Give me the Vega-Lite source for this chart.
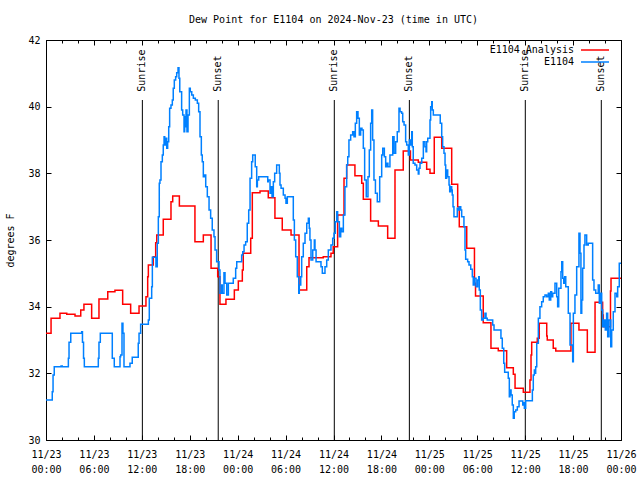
{
  "$schema": "https://vega.github.io/schema/vega-lite/v6.json",
  "width": 575,
  "height": 400,
  "autosize": {"type": "none"},
  "padding": {"left": 46, "top": 40, "right": 19, "bottom": 40},
  "background": "white",
  "title": {"text": "Dew Point for E1104 on 2024-Nov-23 (time in UTC)", "font": "DejaVu Sans Mono", "fontSize": 10, "fontWeight": "normal", "color": "black", "offset": 10, "anchor": "middle"},
  "config": {
    "view": {"stroke": "black", "strokeWidth": 1},
    "axis": {"domain": false, "grid": false, "labelFont": "DejaVu Sans Mono", "labelFontSize": 10, "labelColor": "black", "tickColor": "black", "tickWidth": 1, "titleFont": "DejaVu Sans Mono", "titleFontSize": 10, "titleFontWeight": "normal", "titleColor": "black"},
    "legend": {"orient": "none", "legendX": 544, "legendY": 5, "padding": 0, "symbolType": "M-4,0H4", "symbolSize": 49, "symbolStrokeWidth": 1.5, "labelAlign": "right", "labelBaseline": "middle", "labelOffset": -26, "labelFont": "DejaVu Sans Mono", "labelFontSize": 10, "labelColor": "black", "rowPadding": 2}
  },
  "datasets": {
    "sun": [
      {"t": "2024-11-23T12:04:00Z", "event": "Sunrise"},
      {"t": "2024-11-23T21:34:00Z", "event": "Sunset"},
      {"t": "2024-11-24T12:06:00Z", "event": "Sunrise"},
      {"t": "2024-11-24T21:30:00Z", "event": "Sunset"},
      {"t": "2024-11-25T12:01:00Z", "event": "Sunrise"},
      {"t": "2024-11-25T21:32:00Z", "event": "Sunset"}
    ],
    "analysis": [
      {"t": "2024-11-23T00:00:00Z", "v": 33.2},
      {"t": "2024-11-23T00:38:00Z", "v": 33.65},
      {"t": "2024-11-23T01:45:00Z", "v": 33.8},
      {"t": "2024-11-23T02:36:00Z", "v": 33.77},
      {"t": "2024-11-23T03:38:00Z", "v": 33.72},
      {"t": "2024-11-23T04:21:00Z", "v": 33.9},
      {"t": "2024-11-23T04:45:00Z", "v": 34.07},
      {"t": "2024-11-23T05:43:00Z", "v": 33.65},
      {"t": "2024-11-23T06:38:00Z", "v": 34.23},
      {"t": "2024-11-23T07:44:00Z", "v": 34.45},
      {"t": "2024-11-23T08:38:00Z", "v": 34.49},
      {"t": "2024-11-23T09:36:00Z", "v": 34.07},
      {"t": "2024-11-23T10:36:00Z", "v": 33.8},
      {"t": "2024-11-23T11:39:00Z", "v": 34.02},
      {"t": "2024-11-23T12:31:00Z", "v": 34.3},
      {"t": "2024-11-23T12:44:00Z", "v": 34.9},
      {"t": "2024-11-23T12:49:00Z", "v": 35.25},
      {"t": "2024-11-23T13:26:00Z", "v": 35.5},
      {"t": "2024-11-23T13:44:00Z", "v": 35.92},
      {"t": "2024-11-23T13:52:00Z", "v": 36.15},
      {"t": "2024-11-23T14:41:00Z", "v": 36.62},
      {"t": "2024-11-23T15:39:00Z", "v": 37.15},
      {"t": "2024-11-23T15:52:00Z", "v": 37.32},
      {"t": "2024-11-23T16:42:00Z", "v": 37.02},
      {"t": "2024-11-23T18:39:00Z", "v": 35.95},
      {"t": "2024-11-23T19:42:00Z", "v": 36.15},
      {"t": "2024-11-23T20:40:00Z", "v": 35.15},
      {"t": "2024-11-23T21:30:00Z", "v": 34.9},
      {"t": "2024-11-23T21:47:00Z", "v": 34.07},
      {"t": "2024-11-23T22:32:00Z", "v": 34.22},
      {"t": "2024-11-23T23:35:00Z", "v": 34.5},
      {"t": "2024-11-24T00:05:00Z", "v": 34.77},
      {"t": "2024-11-24T00:35:00Z", "v": 35.1},
      {"t": "2024-11-24T00:42:00Z", "v": 35.6},
      {"t": "2024-11-24T01:38:00Z", "v": 36.05},
      {"t": "2024-11-24T01:50:00Z", "v": 37.42},
      {"t": "2024-11-24T02:48:00Z", "v": 37.47},
      {"t": "2024-11-24T03:50:00Z", "v": 37.27},
      {"t": "2024-11-24T04:40:00Z", "v": 36.65},
      {"t": "2024-11-24T05:35:00Z", "v": 36.3},
      {"t": "2024-11-24T06:41:00Z", "v": 36.15},
      {"t": "2024-11-24T07:41:00Z", "v": 34.5},
      {"t": "2024-11-24T08:39:00Z", "v": 35.2},
      {"t": "2024-11-24T08:56:00Z", "v": 35.47},
      {"t": "2024-11-24T10:43:00Z", "v": 35.5},
      {"t": "2024-11-24T11:41:00Z", "v": 35.6},
      {"t": "2024-11-24T11:58:00Z", "v": 35.8},
      {"t": "2024-11-24T12:31:00Z", "v": 36.75},
      {"t": "2024-11-24T13:19:00Z", "v": 37.85},
      {"t": "2024-11-24T13:39:00Z", "v": 38.25},
      {"t": "2024-11-24T14:41:00Z", "v": 37.93},
      {"t": "2024-11-24T15:32:00Z", "v": 37.7},
      {"t": "2024-11-24T15:44:00Z", "v": 37.22},
      {"t": "2024-11-24T16:39:00Z", "v": 36.57},
      {"t": "2024-11-24T17:37:00Z", "v": 36.42},
      {"t": "2024-11-24T18:47:00Z", "v": 36.05},
      {"t": "2024-11-24T19:42:00Z", "v": 38.1},
      {"t": "2024-11-24T20:44:00Z", "v": 38.67},
      {"t": "2024-11-24T21:38:00Z", "v": 38.4},
      {"t": "2024-11-24T22:37:00Z", "v": 38.33},
      {"t": "2024-11-24T23:40:00Z", "v": 38.12},
      {"t": "2024-11-25T00:05:00Z", "v": 38.0},
      {"t": "2024-11-25T00:37:00Z", "v": 39.08},
      {"t": "2024-11-25T01:33:00Z", "v": 38.75},
      {"t": "2024-11-25T02:48:00Z", "v": 37.67},
      {"t": "2024-11-25T03:33:00Z", "v": 37.0},
      {"t": "2024-11-25T03:45:00Z", "v": 36.4},
      {"t": "2024-11-25T04:41:00Z", "v": 35.75},
      {"t": "2024-11-25T05:39:00Z", "v": 34.7},
      {"t": "2024-11-25T05:47:00Z", "v": 34.32},
      {"t": "2024-11-25T06:45:00Z", "v": 33.52},
      {"t": "2024-11-25T07:43:00Z", "v": 32.75},
      {"t": "2024-11-25T08:38:00Z", "v": 32.68},
      {"t": "2024-11-25T09:41:00Z", "v": 32.17},
      {"t": "2024-11-25T10:31:00Z", "v": 31.97},
      {"t": "2024-11-25T10:44:00Z", "v": 31.55},
      {"t": "2024-11-25T11:46:00Z", "v": 31.43},
      {"t": "2024-11-25T12:36:00Z", "v": 31.8},
      {"t": "2024-11-25T12:44:00Z", "v": 32.55},
      {"t": "2024-11-25T12:49:00Z", "v": 32.93},
      {"t": "2024-11-25T13:31:00Z", "v": 33.05},
      {"t": "2024-11-25T13:46:00Z", "v": 33.5},
      {"t": "2024-11-25T14:42:00Z", "v": 33.12},
      {"t": "2024-11-25T14:46:00Z", "v": 33.0},
      {"t": "2024-11-25T15:31:00Z", "v": 32.75},
      {"t": "2024-11-25T15:50:00Z", "v": 32.67},
      {"t": "2024-11-25T17:44:00Z", "v": 33.5},
      {"t": "2024-11-25T18:44:00Z", "v": 33.3},
      {"t": "2024-11-25T19:47:00Z", "v": 32.63},
      {"t": "2024-11-25T20:45:00Z", "v": 34.13},
      {"t": "2024-11-25T21:42:00Z", "v": 33.75},
      {"t": "2024-11-25T21:47:00Z", "v": 33.4},
      {"t": "2024-11-25T22:41:00Z", "v": 34.47},
      {"t": "2024-11-25T22:45:00Z", "v": 34.85},
      {"t": "2024-11-26T00:00:00Z", "v": 34.85}
    ],
    "obs": [
      {"t": "2024-11-23T00:00:00Z", "v": 31.2},
      {"t": "2024-11-23T00:47:00Z", "v": 31.45},
      {"t": "2024-11-23T00:53:00Z", "v": 31.95},
      {"t": "2024-11-23T01:02:00Z", "v": 32.2},
      {"t": "2024-11-23T01:53:00Z", "v": 32.22},
      {"t": "2024-11-23T02:02:00Z", "v": 32.2},
      {"t": "2024-11-23T02:48:00Z", "v": 32.45},
      {"t": "2024-11-23T02:53:00Z", "v": 32.93},
      {"t": "2024-11-23T03:06:00Z", "v": 33.2},
      {"t": "2024-11-23T04:28:00Z", "v": 33.25},
      {"t": "2024-11-23T04:34:00Z", "v": 32.93},
      {"t": "2024-11-23T04:42:00Z", "v": 32.45},
      {"t": "2024-11-23T04:48:00Z", "v": 32.2},
      {"t": "2024-11-23T06:33:00Z", "v": 32.45},
      {"t": "2024-11-23T06:38:00Z", "v": 32.93},
      {"t": "2024-11-23T06:48:00Z", "v": 33.2},
      {"t": "2024-11-23T08:18:00Z", "v": 32.45},
      {"t": "2024-11-23T08:33:00Z", "v": 32.2},
      {"t": "2024-11-23T09:16:00Z", "v": 32.5},
      {"t": "2024-11-23T09:21:00Z", "v": 32.55},
      {"t": "2024-11-23T09:31:00Z", "v": 33.5},
      {"t": "2024-11-23T09:38:00Z", "v": 33.2},
      {"t": "2024-11-23T09:46:00Z", "v": 32.2},
      {"t": "2024-11-23T10:31:00Z", "v": 32.3},
      {"t": "2024-11-23T10:48:00Z", "v": 32.48},
      {"t": "2024-11-23T11:33:00Z", "v": 32.9},
      {"t": "2024-11-23T11:39:00Z", "v": 33.2},
      {"t": "2024-11-23T11:51:00Z", "v": 33.47},
      {"t": "2024-11-23T12:49:00Z", "v": 33.6},
      {"t": "2024-11-23T12:56:00Z", "v": 34.25},
      {"t": "2024-11-23T13:14:00Z", "v": 34.6},
      {"t": "2024-11-23T13:19:00Z", "v": 35.48},
      {"t": "2024-11-23T13:46:00Z", "v": 35.2},
      {"t": "2024-11-23T13:56:00Z", "v": 35.9},
      {"t": "2024-11-23T14:04:00Z", "v": 36.7},
      {"t": "2024-11-23T14:11:00Z", "v": 37.7},
      {"t": "2024-11-23T14:16:00Z", "v": 37.8},
      {"t": "2024-11-23T14:24:00Z", "v": 38.35},
      {"t": "2024-11-23T14:34:00Z", "v": 38.55},
      {"t": "2024-11-23T14:41:00Z", "v": 38.85},
      {"t": "2024-11-23T14:47:00Z", "v": 39.1},
      {"t": "2024-11-23T14:52:00Z", "v": 38.85},
      {"t": "2024-11-23T14:59:00Z", "v": 39.05},
      {"t": "2024-11-23T15:07:00Z", "v": 38.75},
      {"t": "2024-11-23T15:14:00Z", "v": 38.95},
      {"t": "2024-11-23T15:22:00Z", "v": 39.4},
      {"t": "2024-11-23T15:29:00Z", "v": 39.95},
      {"t": "2024-11-23T15:39:00Z", "v": 40.05},
      {"t": "2024-11-23T15:49:00Z", "v": 40.2},
      {"t": "2024-11-23T15:56:00Z", "v": 40.55},
      {"t": "2024-11-23T16:04:00Z", "v": 40.8},
      {"t": "2024-11-23T16:14:00Z", "v": 40.9},
      {"t": "2024-11-23T16:22:00Z", "v": 41.02},
      {"t": "2024-11-23T16:32:00Z", "v": 41.17},
      {"t": "2024-11-23T16:39:00Z", "v": 40.85},
      {"t": "2024-11-23T16:45:00Z", "v": 40.45},
      {"t": "2024-11-23T16:59:00Z", "v": 39.9},
      {"t": "2024-11-23T17:07:00Z", "v": 39.75},
      {"t": "2024-11-23T17:17:00Z", "v": 39.25},
      {"t": "2024-11-23T17:22:00Z", "v": 39.7},
      {"t": "2024-11-23T17:27:00Z", "v": 39.4},
      {"t": "2024-11-23T17:32:00Z", "v": 39.9},
      {"t": "2024-11-23T17:39:00Z", "v": 39.25},
      {"t": "2024-11-23T17:47:00Z", "v": 39.75},
      {"t": "2024-11-23T17:57:00Z", "v": 40.55},
      {"t": "2024-11-23T18:04:00Z", "v": 40.45},
      {"t": "2024-11-23T18:15:00Z", "v": 40.35},
      {"t": "2024-11-23T18:27:00Z", "v": 40.25},
      {"t": "2024-11-23T18:42:00Z", "v": 40.2},
      {"t": "2024-11-23T18:57:00Z", "v": 40.1},
      {"t": "2024-11-23T19:07:00Z", "v": 39.85},
      {"t": "2024-11-23T19:17:00Z", "v": 39.1},
      {"t": "2024-11-23T19:27:00Z", "v": 38.55},
      {"t": "2024-11-23T19:34:00Z", "v": 38.35},
      {"t": "2024-11-23T19:42:00Z", "v": 37.9},
      {"t": "2024-11-23T19:49:00Z", "v": 37.95},
      {"t": "2024-11-23T20:00:00Z", "v": 37.6},
      {"t": "2024-11-23T20:12:00Z", "v": 37.3},
      {"t": "2024-11-23T20:25:00Z", "v": 36.9},
      {"t": "2024-11-23T20:37:00Z", "v": 36.65},
      {"t": "2024-11-23T20:49:00Z", "v": 36.3},
      {"t": "2024-11-23T21:02:00Z", "v": 36.1},
      {"t": "2024-11-23T21:10:00Z", "v": 35.7},
      {"t": "2024-11-23T21:22:00Z", "v": 35.35},
      {"t": "2024-11-23T21:40:00Z", "v": 35.1},
      {"t": "2024-11-23T21:47:00Z", "v": 34.4},
      {"t": "2024-11-23T22:00:00Z", "v": 34.65},
      {"t": "2024-11-23T22:04:00Z", "v": 34.4},
      {"t": "2024-11-23T22:17:00Z", "v": 35.02},
      {"t": "2024-11-23T22:25:00Z", "v": 34.7},
      {"t": "2024-11-23T22:38:00Z", "v": 34.35},
      {"t": "2024-11-23T22:50:00Z", "v": 34.7},
      {"t": "2024-11-23T23:27:00Z", "v": 34.85},
      {"t": "2024-11-23T23:45:00Z", "v": 35.15},
      {"t": "2024-11-23T23:53:00Z", "v": 35.35},
      {"t": "2024-11-24T00:30:00Z", "v": 35.55},
      {"t": "2024-11-24T00:38:00Z", "v": 35.65},
      {"t": "2024-11-24T00:48:00Z", "v": 35.85},
      {"t": "2024-11-24T01:00:00Z", "v": 35.95},
      {"t": "2024-11-24T01:12:00Z", "v": 36.5},
      {"t": "2024-11-24T01:23:00Z", "v": 36.9},
      {"t": "2024-11-24T01:33:00Z", "v": 37.85},
      {"t": "2024-11-24T01:45:00Z", "v": 38.35},
      {"t": "2024-11-24T01:53:00Z", "v": 38.55},
      {"t": "2024-11-24T02:12:00Z", "v": 38.2},
      {"t": "2024-11-24T02:23:00Z", "v": 37.6},
      {"t": "2024-11-24T02:28:00Z", "v": 37.8},
      {"t": "2024-11-24T02:38:00Z", "v": 37.9},
      {"t": "2024-11-24T03:46:00Z", "v": 37.75},
      {"t": "2024-11-24T03:50:00Z", "v": 37.8},
      {"t": "2024-11-24T04:03:00Z", "v": 37.4},
      {"t": "2024-11-24T04:10:00Z", "v": 37.6},
      {"t": "2024-11-24T04:18:00Z", "v": 37.3},
      {"t": "2024-11-24T04:28:00Z", "v": 37.75},
      {"t": "2024-11-24T04:38:00Z", "v": 38.0},
      {"t": "2024-11-24T04:53:00Z", "v": 38.25},
      {"t": "2024-11-24T05:13:00Z", "v": 38.0},
      {"t": "2024-11-24T05:18:00Z", "v": 37.65},
      {"t": "2024-11-24T05:26:00Z", "v": 37.55},
      {"t": "2024-11-24T05:43:00Z", "v": 37.35},
      {"t": "2024-11-24T05:56:00Z", "v": 37.25},
      {"t": "2024-11-24T06:03:00Z", "v": 37.1},
      {"t": "2024-11-24T06:13:00Z", "v": 37.3},
      {"t": "2024-11-24T06:58:00Z", "v": 36.6},
      {"t": "2024-11-24T07:06:00Z", "v": 36.0},
      {"t": "2024-11-24T07:16:00Z", "v": 35.5},
      {"t": "2024-11-24T07:28:00Z", "v": 34.9},
      {"t": "2024-11-24T07:39:00Z", "v": 34.4},
      {"t": "2024-11-24T07:43:00Z", "v": 34.65},
      {"t": "2024-11-24T07:54:00Z", "v": 34.9},
      {"t": "2024-11-24T08:01:00Z", "v": 35.5},
      {"t": "2024-11-24T08:13:00Z", "v": 35.9},
      {"t": "2024-11-24T08:26:00Z", "v": 36.2},
      {"t": "2024-11-24T08:39:00Z", "v": 36.5},
      {"t": "2024-11-24T08:51:00Z", "v": 36.65},
      {"t": "2024-11-24T08:58:00Z", "v": 36.35},
      {"t": "2024-11-24T09:03:00Z", "v": 36.0},
      {"t": "2024-11-24T09:11:00Z", "v": 35.4},
      {"t": "2024-11-24T09:24:00Z", "v": 35.7},
      {"t": "2024-11-24T09:36:00Z", "v": 36.0},
      {"t": "2024-11-24T09:41:00Z", "v": 35.7},
      {"t": "2024-11-24T09:49:00Z", "v": 35.35},
      {"t": "2024-11-24T10:26:00Z", "v": 35.2},
      {"t": "2024-11-24T10:36:00Z", "v": 35.0},
      {"t": "2024-11-24T10:56:00Z", "v": 35.2},
      {"t": "2024-11-24T11:09:00Z", "v": 35.4},
      {"t": "2024-11-24T11:21:00Z", "v": 35.7},
      {"t": "2024-11-24T11:41:00Z", "v": 35.85},
      {"t": "2024-11-24T11:54:00Z", "v": 36.05},
      {"t": "2024-11-24T12:04:00Z", "v": 36.2},
      {"t": "2024-11-24T12:13:00Z", "v": 36.55},
      {"t": "2024-11-24T12:24:00Z", "v": 36.85},
      {"t": "2024-11-24T12:31:00Z", "v": 36.55},
      {"t": "2024-11-24T12:44:00Z", "v": 36.1},
      {"t": "2024-11-24T12:54:00Z", "v": 36.35},
      {"t": "2024-11-24T13:02:00Z", "v": 36.25},
      {"t": "2024-11-24T13:14:00Z", "v": 36.75},
      {"t": "2024-11-24T13:26:00Z", "v": 37.6},
      {"t": "2024-11-24T13:39:00Z", "v": 38.25},
      {"t": "2024-11-24T13:47:00Z", "v": 38.5},
      {"t": "2024-11-24T13:56:00Z", "v": 39.0},
      {"t": "2024-11-24T14:09:00Z", "v": 39.15},
      {"t": "2024-11-24T14:24:00Z", "v": 39.25},
      {"t": "2024-11-24T14:34:00Z", "v": 39.1},
      {"t": "2024-11-24T14:44:00Z", "v": 39.5},
      {"t": "2024-11-24T14:54:00Z", "v": 39.85},
      {"t": "2024-11-24T15:04:00Z", "v": 39.65},
      {"t": "2024-11-24T15:14:00Z", "v": 39.15},
      {"t": "2024-11-24T15:24:00Z", "v": 39.35},
      {"t": "2024-11-24T15:34:00Z", "v": 39.3},
      {"t": "2024-11-24T15:44:00Z", "v": 38.75},
      {"t": "2024-11-24T15:54:00Z", "v": 37.8},
      {"t": "2024-11-24T16:06:00Z", "v": 37.3},
      {"t": "2024-11-24T16:19:00Z", "v": 37.9},
      {"t": "2024-11-24T16:29:00Z", "v": 38.7},
      {"t": "2024-11-24T16:39:00Z", "v": 39.5},
      {"t": "2024-11-24T16:47:00Z", "v": 39.9},
      {"t": "2024-11-24T16:54:00Z", "v": 39.0},
      {"t": "2024-11-24T17:04:00Z", "v": 37.8},
      {"t": "2024-11-24T17:15:00Z", "v": 37.4},
      {"t": "2024-11-24T17:29:00Z", "v": 37.15},
      {"t": "2024-11-24T17:47:00Z", "v": 37.9},
      {"t": "2024-11-24T18:02:00Z", "v": 38.55},
      {"t": "2024-11-24T18:10:00Z", "v": 38.75},
      {"t": "2024-11-24T18:22:00Z", "v": 38.5},
      {"t": "2024-11-24T18:32:00Z", "v": 38.2},
      {"t": "2024-11-24T18:40:00Z", "v": 38.3},
      {"t": "2024-11-24T18:49:00Z", "v": 38.2},
      {"t": "2024-11-24T19:04:00Z", "v": 38.55},
      {"t": "2024-11-24T19:25:00Z", "v": 39.1},
      {"t": "2024-11-24T19:35:00Z", "v": 38.6},
      {"t": "2024-11-24T19:47:00Z", "v": 38.95},
      {"t": "2024-11-24T19:59:00Z", "v": 39.25},
      {"t": "2024-11-24T20:12:00Z", "v": 39.95},
      {"t": "2024-11-24T20:20:00Z", "v": 39.85},
      {"t": "2024-11-24T20:32:00Z", "v": 39.8},
      {"t": "2024-11-24T20:40:00Z", "v": 39.55},
      {"t": "2024-11-24T20:50:00Z", "v": 39.45},
      {"t": "2024-11-24T21:02:00Z", "v": 38.95},
      {"t": "2024-11-24T21:10:00Z", "v": 38.85},
      {"t": "2024-11-24T21:22:00Z", "v": 38.55},
      {"t": "2024-11-24T21:30:00Z", "v": 39.0},
      {"t": "2024-11-24T21:40:00Z", "v": 38.85},
      {"t": "2024-11-24T21:48:00Z", "v": 39.25},
      {"t": "2024-11-24T21:52:00Z", "v": 38.8},
      {"t": "2024-11-24T21:59:00Z", "v": 38.3},
      {"t": "2024-11-24T22:12:00Z", "v": 38.25},
      {"t": "2024-11-24T22:25:00Z", "v": 38.1},
      {"t": "2024-11-24T22:37:00Z", "v": 37.98},
      {"t": "2024-11-24T22:42:00Z", "v": 38.15},
      {"t": "2024-11-24T22:50:00Z", "v": 38.3},
      {"t": "2024-11-24T23:03:00Z", "v": 38.45},
      {"t": "2024-11-24T23:15:00Z", "v": 38.95},
      {"t": "2024-11-24T23:27:00Z", "v": 38.8},
      {"t": "2024-11-24T23:35:00Z", "v": 38.65},
      {"t": "2024-11-24T23:40:00Z", "v": 38.95},
      {"t": "2024-11-24T23:48:00Z", "v": 39.05},
      {"t": "2024-11-25T00:05:00Z", "v": 39.6},
      {"t": "2024-11-25T00:10:00Z", "v": 40.0},
      {"t": "2024-11-25T00:18:00Z", "v": 40.15},
      {"t": "2024-11-25T00:22:00Z", "v": 39.9},
      {"t": "2024-11-25T00:30:00Z", "v": 39.75},
      {"t": "2024-11-25T01:22:00Z", "v": 39.5},
      {"t": "2024-11-25T01:33:00Z", "v": 39.1},
      {"t": "2024-11-25T01:40:00Z", "v": 38.8},
      {"t": "2024-11-25T01:50:00Z", "v": 38.6},
      {"t": "2024-11-25T01:58:00Z", "v": 38.25},
      {"t": "2024-11-25T02:03:00Z", "v": 37.85},
      {"t": "2024-11-25T02:10:00Z", "v": 38.1},
      {"t": "2024-11-25T02:18:00Z", "v": 37.9},
      {"t": "2024-11-25T02:28:00Z", "v": 37.65},
      {"t": "2024-11-25T02:33:00Z", "v": 37.45},
      {"t": "2024-11-25T02:40:00Z", "v": 37.6},
      {"t": "2024-11-25T02:48:00Z", "v": 37.5},
      {"t": "2024-11-25T02:52:00Z", "v": 37.35},
      {"t": "2024-11-25T02:58:00Z", "v": 37.0},
      {"t": "2024-11-25T03:05:00Z", "v": 36.7},
      {"t": "2024-11-25T03:30:00Z", "v": 36.95},
      {"t": "2024-11-25T03:38:00Z", "v": 36.9},
      {"t": "2024-11-25T03:45:00Z", "v": 37.0},
      {"t": "2024-11-25T03:56:00Z", "v": 36.9},
      {"t": "2024-11-25T04:03:00Z", "v": 36.7},
      {"t": "2024-11-25T04:20:00Z", "v": 36.4},
      {"t": "2024-11-25T04:28:00Z", "v": 35.7},
      {"t": "2024-11-25T04:33:00Z", "v": 35.42},
      {"t": "2024-11-25T04:48:00Z", "v": 35.35},
      {"t": "2024-11-25T04:58:00Z", "v": 35.25},
      {"t": "2024-11-25T05:11:00Z", "v": 35.12},
      {"t": "2024-11-25T05:23:00Z", "v": 34.9},
      {"t": "2024-11-25T05:30:00Z", "v": 34.65},
      {"t": "2024-11-25T05:38:00Z", "v": 34.85},
      {"t": "2024-11-25T05:51:00Z", "v": 34.6},
      {"t": "2024-11-25T06:03:00Z", "v": 34.8},
      {"t": "2024-11-25T06:11:00Z", "v": 34.9},
      {"t": "2024-11-25T06:15:00Z", "v": 34.5},
      {"t": "2024-11-25T06:23:00Z", "v": 33.9},
      {"t": "2024-11-25T06:33:00Z", "v": 33.6},
      {"t": "2024-11-25T06:45:00Z", "v": 33.65},
      {"t": "2024-11-25T06:58:00Z", "v": 33.8},
      {"t": "2024-11-25T07:06:00Z", "v": 33.65},
      {"t": "2024-11-25T07:15:00Z", "v": 33.6},
      {"t": "2024-11-25T07:56:00Z", "v": 33.45},
      {"t": "2024-11-25T08:06:00Z", "v": 33.3},
      {"t": "2024-11-25T08:58:00Z", "v": 33.05},
      {"t": "2024-11-25T09:08:00Z", "v": 32.75},
      {"t": "2024-11-25T09:19:00Z", "v": 32.3},
      {"t": "2024-11-25T09:26:00Z", "v": 32.03},
      {"t": "2024-11-25T09:53:00Z", "v": 31.85},
      {"t": "2024-11-25T10:01:00Z", "v": 31.3},
      {"t": "2024-11-25T10:06:00Z", "v": 31.5},
      {"t": "2024-11-25T10:14:00Z", "v": 31.35},
      {"t": "2024-11-25T10:23:00Z", "v": 31.05},
      {"t": "2024-11-25T10:31:00Z", "v": 30.65},
      {"t": "2024-11-25T10:38:00Z", "v": 30.85},
      {"t": "2024-11-25T10:49:00Z", "v": 30.9},
      {"t": "2024-11-25T11:01:00Z", "v": 31.0},
      {"t": "2024-11-25T11:14:00Z", "v": 31.17},
      {"t": "2024-11-25T11:42:00Z", "v": 31.05},
      {"t": "2024-11-25T11:51:00Z", "v": 31.12},
      {"t": "2024-11-25T11:54:00Z", "v": 30.95},
      {"t": "2024-11-25T12:04:00Z", "v": 31.18},
      {"t": "2024-11-25T12:54:00Z", "v": 31.5},
      {"t": "2024-11-25T13:01:00Z", "v": 31.95},
      {"t": "2024-11-25T13:09:00Z", "v": 32.1},
      {"t": "2024-11-25T13:14:00Z", "v": 32.0},
      {"t": "2024-11-25T13:19:00Z", "v": 32.2},
      {"t": "2024-11-25T13:27:00Z", "v": 32.9},
      {"t": "2024-11-25T13:39:00Z", "v": 33.65},
      {"t": "2024-11-25T13:51:00Z", "v": 34.0},
      {"t": "2024-11-25T14:04:00Z", "v": 34.15},
      {"t": "2024-11-25T14:16:00Z", "v": 34.3},
      {"t": "2024-11-25T14:29:00Z", "v": 34.35},
      {"t": "2024-11-25T14:42:00Z", "v": 34.3},
      {"t": "2024-11-25T14:54:00Z", "v": 34.4},
      {"t": "2024-11-25T15:01:00Z", "v": 34.2},
      {"t": "2024-11-25T15:12:00Z", "v": 34.45},
      {"t": "2024-11-25T15:19:00Z", "v": 34.3},
      {"t": "2024-11-25T15:27:00Z", "v": 34.4},
      {"t": "2024-11-25T15:44:00Z", "v": 34.7},
      {"t": "2024-11-25T15:57:00Z", "v": 34.3},
      {"t": "2024-11-25T16:04:00Z", "v": 34.0},
      {"t": "2024-11-25T16:12:00Z", "v": 34.55},
      {"t": "2024-11-25T16:29:00Z", "v": 35.05},
      {"t": "2024-11-25T16:35:00Z", "v": 35.35},
      {"t": "2024-11-25T16:42:00Z", "v": 34.85},
      {"t": "2024-11-25T16:50:00Z", "v": 34.7},
      {"t": "2024-11-25T16:57:00Z", "v": 34.9},
      {"t": "2024-11-25T17:05:00Z", "v": 34.6},
      {"t": "2024-11-25T17:24:00Z", "v": 33.8},
      {"t": "2024-11-25T17:37:00Z", "v": 32.85},
      {"t": "2024-11-25T17:57:00Z", "v": 32.35},
      {"t": "2024-11-25T18:02:00Z", "v": 33.8},
      {"t": "2024-11-25T18:14:00Z", "v": 34.35},
      {"t": "2024-11-25T18:27:00Z", "v": 35.2},
      {"t": "2024-11-25T18:44:00Z", "v": 36.2},
      {"t": "2024-11-25T18:52:00Z", "v": 35.6},
      {"t": "2024-11-25T18:59:00Z", "v": 33.8},
      {"t": "2024-11-25T19:05:00Z", "v": 34.2},
      {"t": "2024-11-25T19:12:00Z", "v": 35.15},
      {"t": "2024-11-25T19:22:00Z", "v": 35.85},
      {"t": "2024-11-25T19:29:00Z", "v": 36.15},
      {"t": "2024-11-25T19:42:00Z", "v": 35.85},
      {"t": "2024-11-25T19:54:00Z", "v": 35.9},
      {"t": "2024-11-25T20:27:00Z", "v": 34.8},
      {"t": "2024-11-25T20:37:00Z", "v": 34.5},
      {"t": "2024-11-25T20:50:00Z", "v": 34.4},
      {"t": "2024-11-25T21:09:00Z", "v": 34.65},
      {"t": "2024-11-25T21:17:00Z", "v": 34.1},
      {"t": "2024-11-25T21:27:00Z", "v": 34.4},
      {"t": "2024-11-25T21:35:00Z", "v": 33.9},
      {"t": "2024-11-25T21:42:00Z", "v": 33.4},
      {"t": "2024-11-25T21:52:00Z", "v": 33.6},
      {"t": "2024-11-25T22:02:00Z", "v": 33.3},
      {"t": "2024-11-25T22:12:00Z", "v": 33.8},
      {"t": "2024-11-25T22:20:00Z", "v": 33.1},
      {"t": "2024-11-25T22:30:00Z", "v": 33.6},
      {"t": "2024-11-25T22:43:00Z", "v": 32.8},
      {"t": "2024-11-25T22:50:00Z", "v": 33.3},
      {"t": "2024-11-25T23:02:00Z", "v": 33.85},
      {"t": "2024-11-25T23:15:00Z", "v": 34.4},
      {"t": "2024-11-25T23:28:00Z", "v": 34.3},
      {"t": "2024-11-25T23:35:00Z", "v": 34.6},
      {"t": "2024-11-25T23:47:00Z", "v": 35.3},
      {"t": "2024-11-26T00:00:00Z", "v": 35.3}
    ]
  },
  "resolve": {"axis": {"x": "independent", "y": "independent"}},
  "layer": [
    {
      "data": {"name": "sun"},
      "mark": {"type": "rule", "color": "black", "strokeWidth": 1},
      "encoding": {
        "x": {"field": "t", "type": "temporal",
              "scale": {"type": "utc", "domain": [1732320000000, 1732579200000], "nice": false},
              "axis": {"orient": "bottom", "title": null, "values": [1732320000000, 1732341600000, 1732363200000, 1732384800000, 1732406400000, 1732428000000, 1732449600000, 1732471200000, 1732492800000, 1732514400000, 1732536000000, 1732557600000, 1732579200000], "tickSize": -5, "labelPadding": 14, "labelBaseline": "top", "labelLineHeight": 15, "labelAlign": "center", "labelFlush": false, "labelOverlap": false,
                       "labelExpr": "[utcFormat(datum.value, '%m/%d'), utcFormat(datum.value, '%H:%M')]"}},
        "y": {"datum": 30, "type": "quantitative",
              "scale": {"domain": [30, 42], "nice": false, "zero": false},
              "axis": {"orient": "left", "title": "degrees F", "values": [30, 32, 34, 36, 38, 40, 42], "tickSize": -5, "labelPadding": 11, "titlePadding": 12}},
        "y2": {"datum": 40.2}
      }
    },
    {
      "data": {"name": "sun"},
      "mark": {"type": "text", "angle": 270, "align": "left", "baseline": "middle", "font": "DejaVu Sans Mono", "fontSize": 10, "color": "black"},
      "encoding": {
        "x": {"field": "t", "type": "temporal",
              "axis": {"orient": "bottom", "title": null, "labels": false, "values": [1732320000000, 1732327200000, 1732334400000, 1732341600000, 1732348800000, 1732356000000, 1732363200000, 1732370400000, 1732377600000, 1732384800000, 1732392000000, 1732399200000, 1732406400000, 1732413600000, 1732420800000, 1732428000000, 1732435200000, 1732442400000, 1732449600000, 1732456800000, 1732464000000, 1732471200000, 1732478400000, 1732485600000, 1732492800000, 1732500000000, 1732507200000, 1732514400000, 1732521600000, 1732528800000, 1732536000000, 1732543200000, 1732550400000, 1732557600000, 1732564800000, 1732572000000, 1732579200000], "tickSize": -3}},
        "y": {"datum": 40.45, "type": "quantitative",
              "axis": {"orient": "right", "title": null, "labels": false, "values": [30, 32, 34, 36, 38, 40, 42], "tickSize": -5}},
        "text": {"field": "event"}
      }
    },
    {
      "data": {"name": "analysis"},
      "mark": {"type": "line", "interpolate": "step-after", "strokeWidth": 1.5},
      "encoding": {
        "x": {"field": "t", "type": "temporal",
              "axis": {"orient": "top", "title": null, "labels": false, "values": [1732320000000, 1732341600000, 1732363200000, 1732384800000, 1732406400000, 1732428000000, 1732449600000, 1732471200000, 1732492800000, 1732514400000, 1732536000000, 1732557600000, 1732579200000], "tickSize": -5}},
        "y": {"field": "v", "type": "quantitative", "axis": null},
        "color": {"datum": "E1104 Analysis", "type": "nominal",
                  "scale": {"domain": ["E1104 Analysis", "E1104"], "range": ["#ff0000", "#0080ff"]},
                  "legend": {"title": null}}
      }
    },
    {
      "data": {"name": "obs"},
      "mark": {"type": "line", "interpolate": "step-after", "strokeWidth": 1.5},
      "encoding": {
        "x": {"field": "t", "type": "temporal",
              "axis": {"orient": "top", "title": null, "labels": false, "values": [1732320000000, 1732327200000, 1732334400000, 1732341600000, 1732348800000, 1732356000000, 1732363200000, 1732370400000, 1732377600000, 1732384800000, 1732392000000, 1732399200000, 1732406400000, 1732413600000, 1732420800000, 1732428000000, 1732435200000, 1732442400000, 1732449600000, 1732456800000, 1732464000000, 1732471200000, 1732478400000, 1732485600000, 1732492800000, 1732500000000, 1732507200000, 1732514400000, 1732521600000, 1732528800000, 1732536000000, 1732543200000, 1732550400000, 1732557600000, 1732564800000, 1732572000000, 1732579200000], "tickSize": -3}},
        "y": {"field": "v", "type": "quantitative", "axis": null},
        "color": {"datum": "E1104", "type": "nominal"}
      }
    }
  ]
}
